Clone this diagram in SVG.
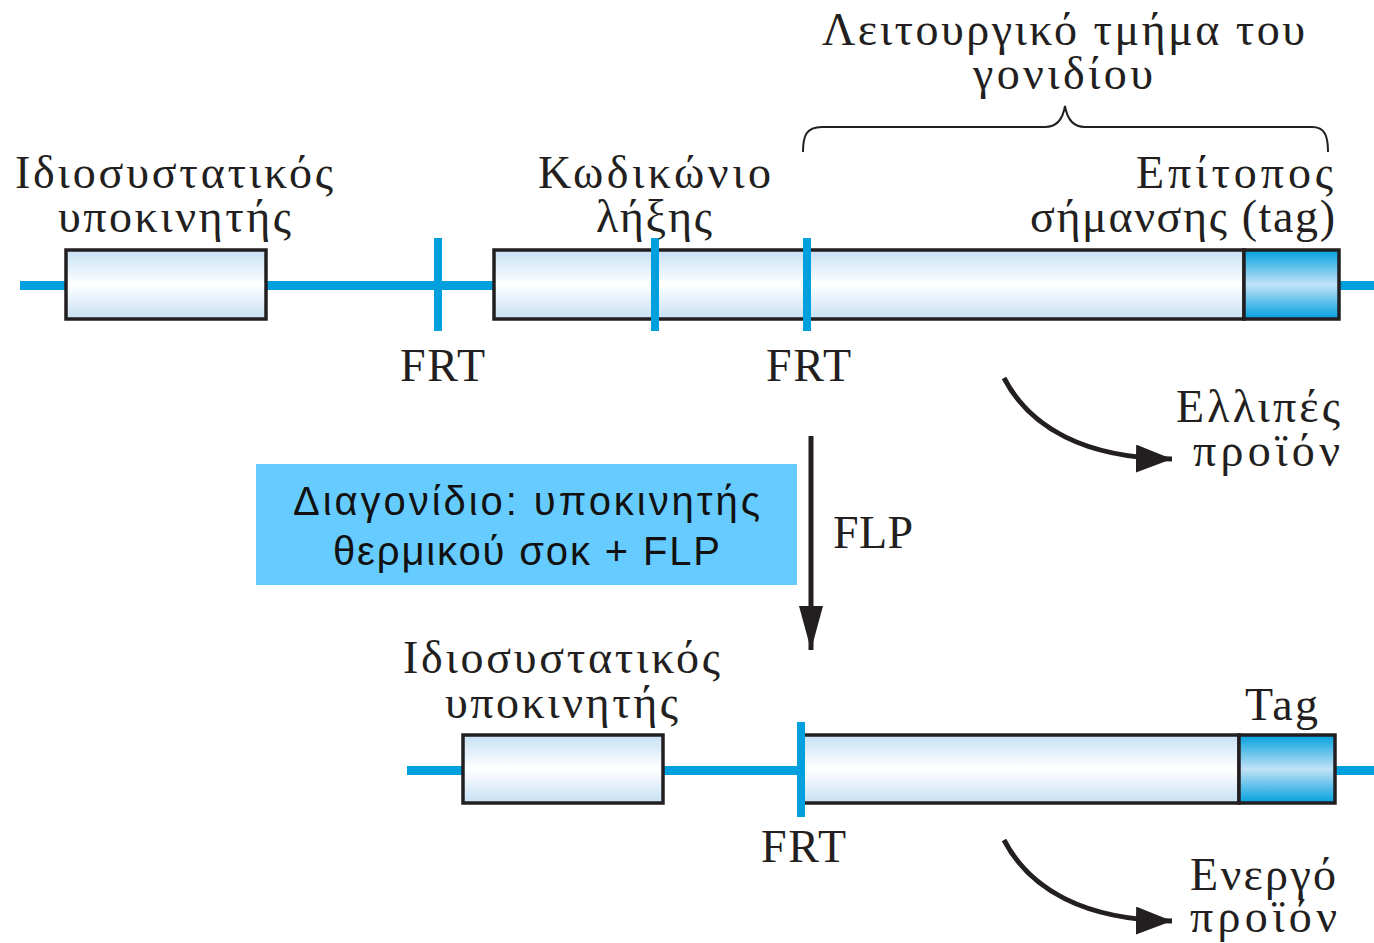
<svg xmlns="http://www.w3.org/2000/svg" width="1374" height="943" viewBox="0 0 1374 943">
<style>
.ser{font-family:"Liberation Serif","Times New Roman",serif;font-size:46px;fill:#231f20}
.san{font-family:"Liberation Sans",Arial,sans-serif;font-size:40px;fill:#111}
.dna{stroke:#00a0df;stroke-width:9;fill:none}
.frt{stroke:#00a0df;stroke-width:8;fill:none}
.box{fill:url(#gBox);stroke:#231f20;stroke-width:3.5}
.tag{fill:url(#gTag);stroke:#231f20;stroke-width:3.5}
.arr{stroke:#231f20;stroke-width:5;fill:none}
</style>
<defs>
<linearGradient id="gBox" x1="0" y1="0" x2="0" y2="1">
<stop offset="0" stop-color="#c6e0f4"/><stop offset="0.5" stop-color="#ffffff"/><stop offset="1" stop-color="#c6e0f4"/>
</linearGradient>
<linearGradient id="gTag" x1="0" y1="0" x2="0" y2="1">
<stop offset="0" stop-color="#00a0df"/><stop offset="0.5" stop-color="#c2e2f6"/><stop offset="1" stop-color="#00a0df"/>
</linearGradient>
<marker id="ah" markerUnits="userSpaceOnUse" markerWidth="40" markerHeight="30" refX="36" refY="14" orient="auto">
<path d="M0,0 L36,14 L0,28 Z" fill="#231f20"/>
</marker>
<marker id="ahv" markerUnits="userSpaceOnUse" markerWidth="48" markerHeight="26" refX="44" refY="12" orient="auto">
<path d="M0,0 L44,12 L0,24 Z" fill="#231f20"/>
</marker>
</defs>

<g id="top-gene">
<line class="dna" x1="20" y1="285.5" x2="1374" y2="285.5"/>
<rect class="box" x="66" y="250" width="200" height="69"/>
<rect class="box" x="494" y="250" width="750" height="69"/>
<rect class="tag" x="1244" y="250" width="95" height="69"/>
<line class="frt" x1="438" y1="238" x2="438" y2="331"/>
<line class="frt" x1="655" y1="238" x2="655" y2="331"/>
<line class="frt" x1="807" y1="238" x2="807" y2="331"/>
</g>

<g id="bottom-gene">
<line class="dna" x1="407" y1="770.5" x2="1374" y2="770.5"/>
<rect class="box" x="463" y="735" width="200" height="68"/>
<rect class="box" x="802" y="735" width="437" height="68"/>
<rect class="tag" x="1239" y="735" width="96" height="68"/>
<line class="frt" x1="801" y1="722" x2="801" y2="817"/>
</g>

<g id="labels-top">
<text class="ser" x="15" y="188" textLength="318">Ιδιοσυστατικός</text>
<text class="ser" x="58" y="232" textLength="233">υποκινητής</text>
<text class="ser" x="538" y="188" textLength="233">Κωδικώνιο</text>
<text class="ser" x="596" y="232" textLength="116">λήξης</text>
<text class="ser" x="822" y="45" textLength="483">Λειτουργικό τμήμα του</text>
<text class="ser" x="973" y="89" textLength="180">γονιδίου</text>
<text class="ser" x="1136" y="188" textLength="197">Επίτοπος</text>
<text class="ser" x="1030" y="232" textLength="305">σήμανσης (tag)</text>
<text class="ser" x="400" y="381" textLength="85">FRT</text>
<text class="ser" x="766" y="381" textLength="85">FRT</text>
<text class="ser" x="1176" y="422" textLength="164">Ελλιπές</text>
<text class="ser" x="1193" y="466" textLength="147">προϊόν</text>
</g>

<g id="brace">
<path d="M803,152 C803,136 806,127 822,127 L1045,127 C1058,127 1063,118 1065,106 C1067,118 1072,127 1085,127 L1312,127 C1325,127 1328,136 1328,152" fill="none" stroke="#231f20" stroke-width="2"/>
</g>

<g id="transgene-box">
<rect x="256" y="464" width="541" height="121" fill="#66ccff"/>
<text class="san" x="293" y="515" textLength="467">Διαγονίδιο: υποκινητής</text>
<text class="san" x="333" y="565" textLength="387">θερμικού σοκ + FLP</text>
</g>

<g id="labels-bottom">
<text class="ser" x="833" y="548" textLength="80">FLP</text>
<text class="ser" x="403" y="673" textLength="317">Ιδιοσυστατικός</text>
<text class="ser" x="445" y="718" textLength="233">υποκινητής</text>
<text class="ser" x="1245" y="720" textLength="73">Tag</text>
<text class="ser" x="761" y="862" textLength="85">FRT</text>
<text class="ser" x="1190" y="890" textLength="146">Ενεργό</text>
<text class="ser" x="1190" y="932" textLength="147">προϊόν</text>
</g>

<g id="connectors">
<path class="arr" d="M811,436 L811,650" marker-end="url(#ahv)"/>
<path class="arr" d="M1004,378 C1030,428 1085,458 1172,459" marker-end="url(#ah)"/>
<path class="arr" d="M1004,840 C1030,890 1085,920 1172,921" marker-end="url(#ah)"/>
</g>
</svg>
